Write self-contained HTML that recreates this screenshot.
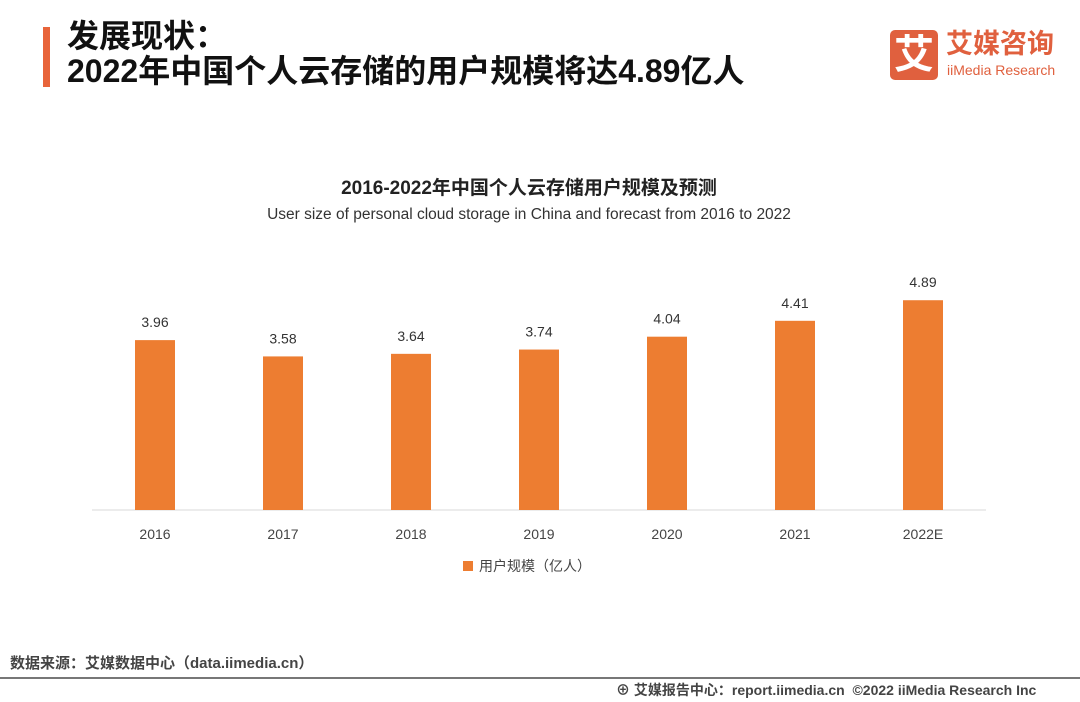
<!DOCTYPE html>
<html><head><meta charset="utf-8"><style>
body{margin:0;width:1080px;height:702px;background:#fff;overflow:hidden;position:relative;font-family:"Liberation Sans","Noto Sans CJK SC",sans-serif}
.abs{position:absolute}
</style></head><body>
<div class="abs" style="left:43px;top:27px;width:7px;height:60px;background:#e8643a"></div>
<div class="abs" style="left:67px;top:19px;font-size:32px;line-height:35px;font-weight:bold;color:#111">发展现状：<br>2022年中国个人云存储的用户规模将达4.89亿人</div>
<div class="abs" style="left:890px;top:30px;width:48px;height:50px;background:#e0603e;border-radius:5px;color:#fff;font-size:40px;line-height:50px;text-align:center;font-weight:bold">艾</div>
<div class="abs" style="left:946px;top:28px;color:#e0603e;font-size:27px;font-weight:bold;line-height:32px">艾媒咨询</div>
<div class="abs" style="left:947px;top:62px;color:#e0603e;font-size:14px">iiMedia Research</div>
<div class="abs" style="left:0;width:1058px;top:173px;text-align:center;font-size:19px;font-weight:bold;color:#222">2016-2022年中国个人云存储用户规模及预测</div>
<div class="abs" style="left:0;width:1058px;top:206px;text-align:center;font-size:15.5px;color:#333">User size of personal cloud storage in China and forecast from 2016 to 2022</div>
<svg class="abs" style="left:0;top:0" width="1080" height="702">
<line x1="92" y1="510" x2="986" y2="510" stroke="#d9d9d9"/>
<g id="g"></g>
<rect x="463" y="561" width="10" height="10" fill="#ed7d31"/>
<text x="479" y="571" font-size="14" fill="#444">用户规模（亿人）</text>
</svg>
<div class="abs" style="left:10px;top:652px;font-size:15px;color:#444;font-weight:bold">数据来源：艾媒数据中心（data.iimedia.cn）</div>
<div class="abs" style="left:0;top:677px;width:1080px;height:2px;background:#777"></div>
<div class="abs" style="left:616px;top:680px;font-size:14px;color:#444;font-weight:bold;white-space:nowrap">⊕ 艾媒报告中心：report.iimedia.cn &nbsp;©2022 iiMedia Research Inc</div>
<script>
const categories=["2016","2017","2018","2019","2020","2021","2022E"];
const values=[3.96,3.58,3.64,3.74,4.04,4.41,4.89];
const labels=["3.96","3.58","3.64","3.74","4.04","4.41","4.89"];
const ns="http://www.w3.org/2000/svg",g=document.getElementById("g");
const xs=i=>155+i*128, ys=v=>510-v*42.9;
categories.forEach((c,i)=>{
 const r=document.createElementNS(ns,"rect");
 r.setAttribute("x",xs(i)-20);r.setAttribute("y",ys(values[i]));r.setAttribute("width",40);r.setAttribute("height",510-ys(values[i]));r.setAttribute("fill","#ed7d31");
 
 
 g.appendChild(r);
 const t=document.createElementNS(ns,"text");
 t.setAttribute("x",xs(i));t.setAttribute("y",ys(values[i])-13);t.setAttribute("text-anchor","middle");t.setAttribute("font-size","14");t.setAttribute("fill","#333");t.textContent=labels[i];
 
 
 g.appendChild(t);
 const x=document.createElementNS(ns,"text");
 x.setAttribute("x",xs(i));x.setAttribute("y",539);x.setAttribute("text-anchor","middle");x.setAttribute("font-size","14");x.setAttribute("fill","#444");x.textContent=c;
 
 
 g.appendChild(x);
});
</script>
</body></html>
